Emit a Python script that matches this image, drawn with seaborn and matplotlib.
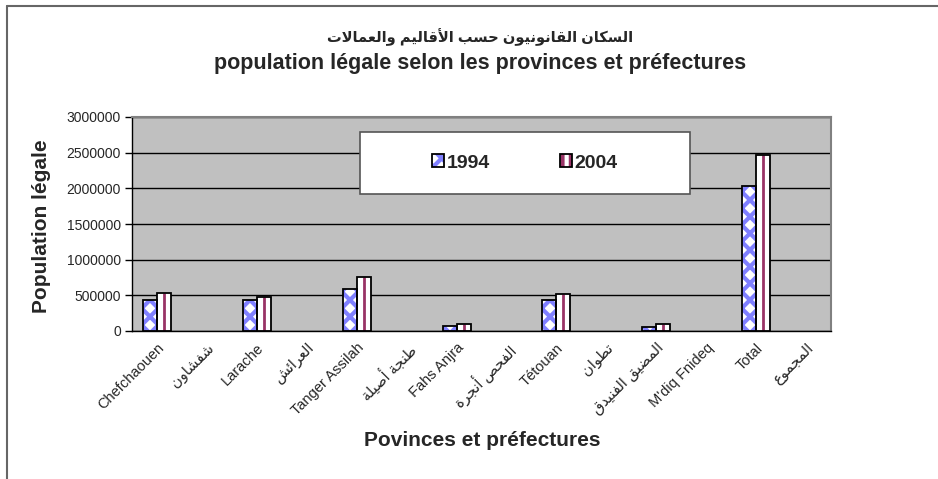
import numpy as np
import pandas as pd
import matplotlib
matplotlib.use('Agg')
import matplotlib.pyplot as plt
import seaborn as sns
from matplotlib.patches import Patch, Rectangle
from matplotlib.lines import Line2D

# data
provinces = ['Chefchaouen', 'شفشاون', 'Larache', 'العرائش', 'Tanger Assilah',
             'طنجة أصيلة', 'Fahs Anjra', 'الفحص أنجرة', 'Tétouan', 'تطوان',
             'المضيق الفنيدق', "M'diq Fnideq", 'Total', 'المجموع']
years = ['1994', '2004']
pop_1994 = [439303, np.nan, 429668, np.nan, 590000, np.nan, 70000, np.nan,
            434000, np.nan, 52000, np.nan, 2036032, np.nan]
pop_2004 = [526402, np.nan, 472386, np.nan, 762583, np.nan, 95000, np.nan,
            519000, np.nan, 98000, np.nan, 2470372, np.nan]
yticks = [0, 500000, 1000000, 1500000, 2000000, 2500000, 3000000]

title_ar = 'السكان القانونيون حسب الأقاليم والعمالات'
title_fr = 'population légale selon les provinces et préfectures'

BLUE = '#8080FF'
PLUM = '#993366'

# matplotlib does no Arabic shaping -> use presentation forms, right to left
AR_FORMS = {
    'ا': (0xFE8D, False), 'أ': (0xFE83, False), 'ئ': (0xFE89, True),
    'ب': (0xFE8F, True), 'ة': (0xFE93, False), 'ت': (0xFE95, True),
    'ج': (0xFE9D, True), 'ح': (0xFEA1, True), 'د': (0xFEA9, False),
    'ر': (0xFEAD, False), 'س': (0xFEB1, True), 'ش': (0xFEB5, True),
    'ص': (0xFEB9, True), 'ض': (0xFEBD, True), 'ط': (0xFEC1, True),
    'ع': (0xFEC9, True), 'ف': (0xFED1, True), 'ق': (0xFED5, True),
    'ك': (0xFED9, True), 'ل': (0xFEDD, True), 'م': (0xFEE1, True),
    'ن': (0xFEE5, True), 'و': (0xFEED, False), 'ي': (0xFEF1, True),
}
LAM_ALEF = {'ا': 0xFEFB, 'أ': 0xFEF7}


def shape_ar(text):
    if not any(c in AR_FORMS for c in text):
        return text
    out = []
    prev_joins = False
    i = 0
    while i < len(text):
        ch = text[i]
        nxt = text[i + 1] if i + 1 < len(text) else ''
        if ch not in AR_FORMS:
            out.append(ch)
            prev_joins = False
            i += 1
            continue
        if ch == 'ل' and nxt in LAM_ALEF:
            out.append(chr(LAM_ALEF[nxt] + int(prev_joins)))
            prev_joins = False
            i += 2
            continue
        base, dual = AR_FORMS[ch]
        next_joins = dual and nxt in AR_FORMS
        out.append(chr(base + [0, 2, 1, 3][int(prev_joins) * 2 + int(next_joins)]))
        prev_joins = dual
        i += 1
    return ''.join(reversed(out))


df = pd.DataFrame({
    'province': provinces * 2,
    'year': ['1994'] * len(provinces) + ['2004'] * len(provinces),
    'population': pop_1994 + pop_2004,
}).dropna()

sns.set_style('white')
plt.rcParams['font.family'] = ['Liberation Sans', 'DejaVu Sans']
plt.rcParams['hatch.linewidth'] = 3

fig = plt.figure(figsize=(9.38, 4.79), dpi=100)
ax = fig.add_axes([132 / 938, 1 - 331 / 479, 699 / 938, 214 / 479])
ax.set_facecolor('#C0C0C0')

sns.barplot(data=df, x='province', y='population', hue='year', order=provinces,
            hue_order=years, palette=['white', 'white'], saturation=1,
            width=0.56, gap=0, errorbar=None, legend=False, ax=ax)

# bar patterns: blue diamonds for 1994, white with plum stripe for 2004
for bar in ax.containers[0]:
    bar.set_edgecolor(BLUE)
    bar.set_hatch('xx')
    bar.set_linewidth(0)
for bar in ax.containers[1]:
    bar.set_linewidth(0)
    cx = bar.get_x() + bar.get_width() / 2
    ax.vlines(cx, 0, bar.get_height(), color=PLUM, lw=2, zorder=3)
for cont in ax.containers:
    for bar in cont:
        ax.add_patch(Rectangle(bar.get_xy(), bar.get_width(), bar.get_height(),
                               fill=False, ec='black', lw=1.3, zorder=4))

ax.set_xlim(-0.5, len(provinces) - 0.5)
ax.set_ylim(0, 3000000)
ax.set_yticks(yticks)
ax.set_yticklabels([str(v) for v in yticks], fontsize=10)
ax.set_xticks(range(len(provinces)))
ax.set_xticklabels([shape_ar(p) for p in provinces], rotation=45, ha='right',
                   rotation_mode='anchor', fontsize=10.5)
ax.set_xticks(np.arange(len(provinces) + 1) - 0.5, minor=True)
ax.tick_params(axis='x', which='major', length=0, pad=7)
ax.tick_params(axis='x', which='minor', length=5, width=1, color='black', direction='out')
ax.tick_params(axis='y', length=5, width=1, color='black', direction='out', left=True, pad=3)

ax.grid(axis='y', color='black', lw=1)
ax.set_axisbelow(True)
for side in ['top', 'right']:
    ax.spines[side].set_color('#808080')
    ax.spines[side].set_linewidth(1.5)
for side in ['left', 'bottom']:
    ax.spines[side].set_color('black')
    ax.spines[side].set_linewidth(1)
ax.set_xlabel('')
ax.set_ylabel('')

# axis titles placed like the Excel chart
fig.text(482 / 938, 1 - 440 / 479, 'Povinces et préfectures', ha='center', va='center',
         fontsize=15, fontweight='bold')
fig.text(42 / 938, 1 - 226 / 479, 'Population légale', ha='center', va='center',
         rotation=90, fontsize=15, fontweight='bold')

# legend box
ax.add_patch(Rectangle((0.326, 0.64), 0.472, 0.29, transform=ax.transAxes,
                       fc='white', ec='#555555', lw=1.2, zorder=5))
h94 = (Patch(fc='white', ec=BLUE, hatch='xx', lw=0), Patch(fill=False, ec='black', lw=1.3))
h04 = (Patch(fc='white', ec=PLUM, hatch='||', lw=0), Patch(fill=False, ec='black', lw=1.3))
leg = ax.legend([h94, h04], years, loc='center', bbox_to_anchor=(0.562, 0.785),
                ncol=2, frameon=False, handlelength=0.6, handleheight=0.6,
                handletextpad=0.15, columnspacing=3.6,
                prop={'size': 14, 'weight': 'bold'})
leg.set_zorder(6)

fig.text(480 / 938, 1 - 37 / 479, shape_ar(title_ar), ha='center', va='center',
         fontsize=10.5, fontweight='bold')
fig.text(480 / 938, 1 - 63 / 479, title_fr, ha='center', va='center',
         fontsize=15.5, fontweight='bold')

# chart area border (left and top edges visible)
fig.add_artist(Line2D([7 / 938, 7 / 938], [0, 1 - 6 / 479], transform=fig.transFigure,
                      color='#666666', lw=1.5))
fig.add_artist(Line2D([7 / 938, 1], [1 - 6 / 479, 1 - 6 / 479], transform=fig.transFigure,
                      color='#666666', lw=1.5))

fig.savefig('out.png', dpi=100)
